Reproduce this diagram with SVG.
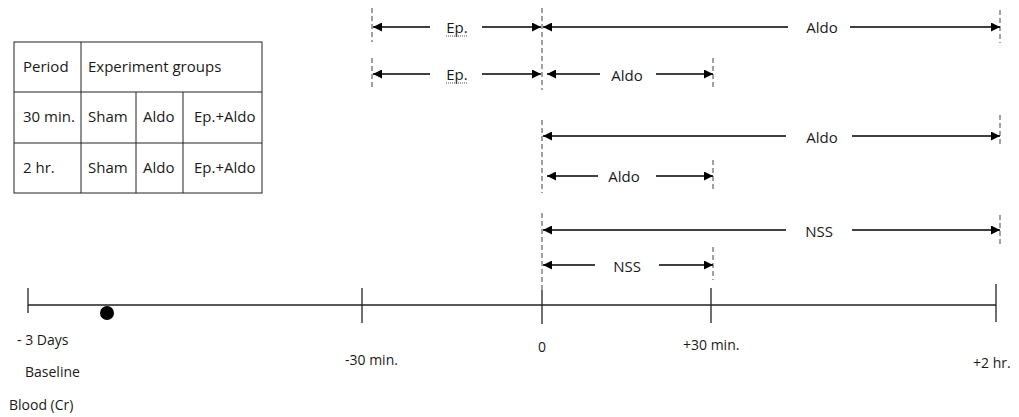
<svg xmlns="http://www.w3.org/2000/svg" width="1019" height="417" viewBox="0 0 1019 417">
<defs>
<marker id="ah" viewBox="0 0 10 10" refX="10" refY="5" markerWidth="9" markerHeight="9" markerUnits="userSpaceOnUse" orient="auto-start-reverse">
<path d="M0,0 L10,5 L0,10 z" fill="#000"/>
</marker>
<style>
text{font-family:"Open Sans","Noto Sans","DejaVu Sans",sans-serif;font-size:14px;fill:#1a1a1a}
.big{font-size:15px}
.tb{fill:none;stroke:#222;stroke-width:1}
.dash{stroke:#444;stroke-width:1;stroke-dasharray:5 3}
.arr{stroke:#000;stroke-width:1.3;fill:none}
.axis{stroke:#222;stroke-width:1.5}
.tick{stroke:#222;stroke-width:1.3}
.mid{text-anchor:middle}
</style>
</defs>
<rect width="1019" height="417" fill="#fff"/>

<g id="table">
<rect class="tb" x="14" y="42" width="248" height="151"/>
<line class="tb" x1="14" y1="92" x2="262" y2="92"/>
<line class="tb" x1="14" y1="143" x2="262" y2="143"/>
<line class="tb" x1="81" y1="42" x2="81" y2="193"/>
<line class="tb" x1="136" y1="92" x2="136" y2="193"/>
<line class="tb" x1="183" y1="92" x2="183" y2="193"/>
<text class="big" x="23" y="72">Period</text>
<text class="big" x="88" y="72">Experiment groups</text>
<text class="big" x="23" y="122">30 min.</text>
<text class="big" x="88" y="122">Sham</text>
<text class="big" x="143" y="122">Aldo</text>
<text class="big" x="194" y="122">Ep.+Aldo</text>
<text class="big" x="23" y="173">2 hr.</text>
<text class="big" x="88" y="173">Sham</text>
<text class="big" x="143" y="173">Aldo</text>
<text class="big" x="194" y="173">Ep.+Aldo</text>
</g>

<g id="guides">
<line class="dash" x1="372" y1="8" x2="372" y2="42"/>
<line class="dash" x1="372" y1="58" x2="372" y2="90"/>
<line class="dash" x1="542" y1="8" x2="542" y2="90"/>
<line class="dash" x1="542" y1="120" x2="542" y2="193"/>
<line class="dash" x1="542" y1="213" x2="542" y2="290"/>
<line class="dash" x1="713" y1="58" x2="713" y2="90"/>
<line class="dash" x1="713" y1="160" x2="713" y2="192"/>
<line class="dash" x1="713" y1="247" x2="713" y2="280"/>
<line class="dash" x1="1000" y1="10" x2="1000" y2="43"/>
<line class="dash" x1="1000" y1="115" x2="1000" y2="147"/>
<line class="dash" x1="1000" y1="215" x2="1000" y2="247"/>
</g>

<g id="connectors">
<line class="arr" x1="430" y1="27" x2="373" y2="27" marker-end="url(#ah)"/>
<line class="arr" x1="482" y1="27" x2="541" y2="27" marker-end="url(#ah)"/>
<line class="arr" x1="788" y1="27" x2="543" y2="27" marker-end="url(#ah)"/>
<line class="arr" x1="850" y1="27" x2="1000" y2="27" marker-end="url(#ah)"/>
<line class="arr" x1="430" y1="74" x2="373" y2="74" marker-end="url(#ah)"/>
<line class="arr" x1="482" y1="74" x2="541" y2="74" marker-end="url(#ah)"/>
<line class="arr" x1="600" y1="74" x2="547" y2="74" marker-end="url(#ah)"/>
<line class="arr" x1="656" y1="74" x2="713" y2="74" marker-end="url(#ah)"/>
<line class="arr" x1="786" y1="136" x2="543" y2="136" marker-end="url(#ah)"/>
<line class="arr" x1="852" y1="136" x2="1000" y2="136" marker-end="url(#ah)"/>
<line class="arr" x1="598" y1="176" x2="547" y2="176" marker-end="url(#ah)"/>
<line class="arr" x1="656" y1="176" x2="713" y2="176" marker-end="url(#ah)"/>
<line class="arr" x1="786" y1="230" x2="543" y2="230" marker-end="url(#ah)"/>
<line class="arr" x1="852" y1="230" x2="1000" y2="230" marker-end="url(#ah)"/>
<line class="arr" x1="595" y1="265" x2="543" y2="265" marker-end="url(#ah)"/>
<line class="arr" x1="659" y1="265" x2="713" y2="265" marker-end="url(#ah)"/>
</g>

<g id="labels">
<text class="big mid" x="457" y="33">Ep.</text>
<line x1="446" y1="36" x2="468" y2="36" stroke="#555" stroke-width="1" stroke-dasharray="1 1"/>
<text class="big mid" x="822" y="33">Aldo</text>
<text class="big mid" x="457" y="80">Ep.</text>
<line x1="446" y1="83" x2="468" y2="83" stroke="#555" stroke-width="1" stroke-dasharray="1 1"/>
<text class="big mid" x="627" y="81">Aldo</text>
<text class="big mid" x="822" y="143">Aldo</text>
<text class="big mid" x="624" y="182">Aldo</text>
<text class="big mid" x="819" y="237">NSS</text>
<text class="big mid" x="627" y="272">NSS</text>
</g>

<g id="timeline">
<line class="axis" x1="28" y1="305" x2="996" y2="305"/>
<line class="tick" x1="28" y1="288" x2="28" y2="313"/>
<line class="tick" x1="362" y1="288" x2="362" y2="323"/>
<line class="tick" x1="542" y1="290" x2="542" y2="324"/>
<line class="tick" x1="711" y1="288" x2="711" y2="323"/>
<line class="tick" x1="996" y1="284" x2="996" y2="322"/>
<circle cx="107" cy="313" r="7" fill="#000"/>
<text x="17" y="345">- 3 Days</text>
<text x="25" y="377">Baseline</text>
<text x="9" y="410">Blood (Cr)</text>
<text x="345" y="365">-30 min.</text>
<text x="538" y="352">0</text>
<text x="683" y="350">+30 min.</text>
<text x="973" y="368">+2 hr.</text>
</g>
</svg>
